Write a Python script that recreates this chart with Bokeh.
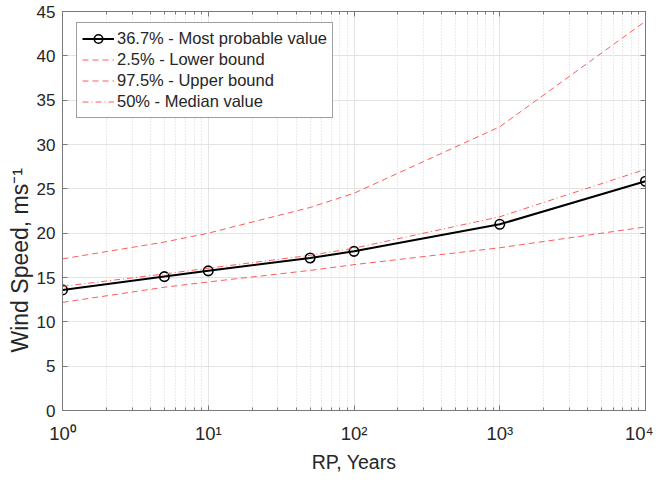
from bokeh.plotting import figure
from bokeh.models import LogAxis, LinearAxis, FixedTicker, Legend, LegendItem, Range1d, Title
from bokeh.embed import file_html
from bokeh.resources import INLINE

rp = [1, 5, 10, 50, 100, 1000, 10000]
most_probable = [13.6, 15.1, 15.75, 17.2, 17.95, 21.0, 25.85]
lower = [12.2, 13.9, 14.5, 15.8, 16.45, 18.35, 20.7]
upper = [17.1, 19.0, 20.0, 22.9, 24.5, 32.0, 43.9]
median = [14.0, 15.4, 16.05, 17.5, 18.3, 21.85, 27.2]
x_ticks = [1, 10, 100, 1000, 10000]
x_tick_labels = ["10⁰", "10¹", "10²", "10³", "10⁴"]
y_ticks = [0, 5, 10, 15, 20, 25, 30, 35, 40, 45]
x_minor = [m * d for d in [1, 10, 100, 1000] for m in range(2, 10)]

FONT = "Liberation Sans"
AX = "#7a7a7a"
TXT = "#262626"
RED = "#ff5a5a"

p = figure(frame_width=583, frame_height=399,
           x_axis_type="log", x_range=Range1d(1, 10000), y_range=Range1d(0, 45),
           output_backend="svg", toolbar_location=None,
           min_border_left=62, min_border_right=8, min_border_top=11, min_border_bottom=60)
p.outline_line_color = AX
p.background_fill_color = "white"

for ax in [p.xaxis[0], p.yaxis[0]]:
    ax.axis_line_color = AX
    ax.major_tick_line_color = AX
    ax.minor_tick_line_color = AX
    ax.major_tick_in = 5
    ax.major_tick_out = 0
    ax.minor_tick_in = 3
    ax.minor_tick_out = 0
    ax.major_label_text_font = FONT
    ax.major_label_text_font_size = "17px"
    ax.major_label_text_color = TXT
    ax.axis_label_text_font = FONT
    ax.axis_label_text_font_style = "normal"
    ax.axis_label_text_color = TXT

p.xaxis[0].ticker = FixedTicker(ticks=x_ticks, minor_ticks=x_minor)
p.xaxis[0].major_label_overrides = {t: l for t, l in zip(x_ticks, x_tick_labels)}
p.xaxis[0].major_label_text_font_size = "18.5px"
p.xaxis[0].axis_label = "RP, Years"
p.xaxis[0].axis_label_text_font_size = "19.5px"
p.xaxis[0].major_label_standoff = 12
p.xaxis[0].axis_label_standoff = 4
p.yaxis[0].ticker = FixedTicker(ticks=y_ticks, minor_ticks=[])
p.yaxis[0].major_label_standoff = 7

ylabel = Title(text="Wind Speed, ms⁻¹", align="left", offset=58, standoff=2,
               text_font=FONT, text_font_size="23px", text_font_style="normal",
               text_color=TXT)
p.add_layout(ylabel, "left")

top = LogAxis(ticker=FixedTicker(ticks=x_ticks, minor_ticks=x_minor),
              major_label_text_font_size="1px", major_label_text_color=None,
              major_label_standoff=0, axis_line_color=AX,
              major_tick_line_color=AX, minor_tick_line_color=AX,
              major_tick_in=5, major_tick_out=0, minor_tick_in=3, minor_tick_out=0)
right = LinearAxis(ticker=FixedTicker(ticks=y_ticks, minor_ticks=[]),
                   major_label_text_font_size="1px", major_label_text_color=None,
                   major_label_standoff=0, axis_line_color=AX,
                   major_tick_line_color=AX, major_tick_in=5, major_tick_out=0)
p.add_layout(top, "above")
p.add_layout(right, "right")

p.xgrid.grid_line_color = "#e3e3e3"
p.xgrid.minor_grid_line_color = "#d6d6d6"
p.xgrid.minor_grid_line_dash = "1 2"
p.ygrid.grid_line_color = "#e3e3e3"

r_mp = p.line(rp, most_probable, line_color="black", line_width=2)
r_mpc = p.scatter(rp, most_probable, marker="circle", size=9.5, fill_color=None,
                  line_color="black", line_width=1.6)
r_lo = p.line(rp, lower, line_color=RED, line_width=1, line_dash="6 4")
r_up = p.line(rp, upper, line_color=RED, line_width=1, line_dash="6 4")
r_md = p.line(rp, median, line_color=RED, line_width=1, line_dash="6 3 1 3")

legend = Legend(items=[
    LegendItem(label="36.7% - Most probable value", renderers=[r_mp, r_mpc]),
    LegendItem(label="2.5% - Lower bound", renderers=[r_lo]),
    LegendItem(label="97.5% - Upper bound", renderers=[r_up]),
    LegendItem(label="50% - Median value", renderers=[r_md]),
], location=(14, 292))
legend.margin = 0
legend.padding = 5
legend.spacing = 0
legend.label_text_font = FONT
legend.label_text_font_size = "16.5px"
legend.label_text_color = TXT
legend.label_height = 21
legend.glyph_height = 21
legend.glyph_width = 32
legend.label_standoff = 3
legend.border_line_color = "#404040"
legend.border_line_width = 1
legend.background_fill_alpha = 1
p.add_layout(legend)

open("out.html", "w").write(file_html(p, INLINE))
